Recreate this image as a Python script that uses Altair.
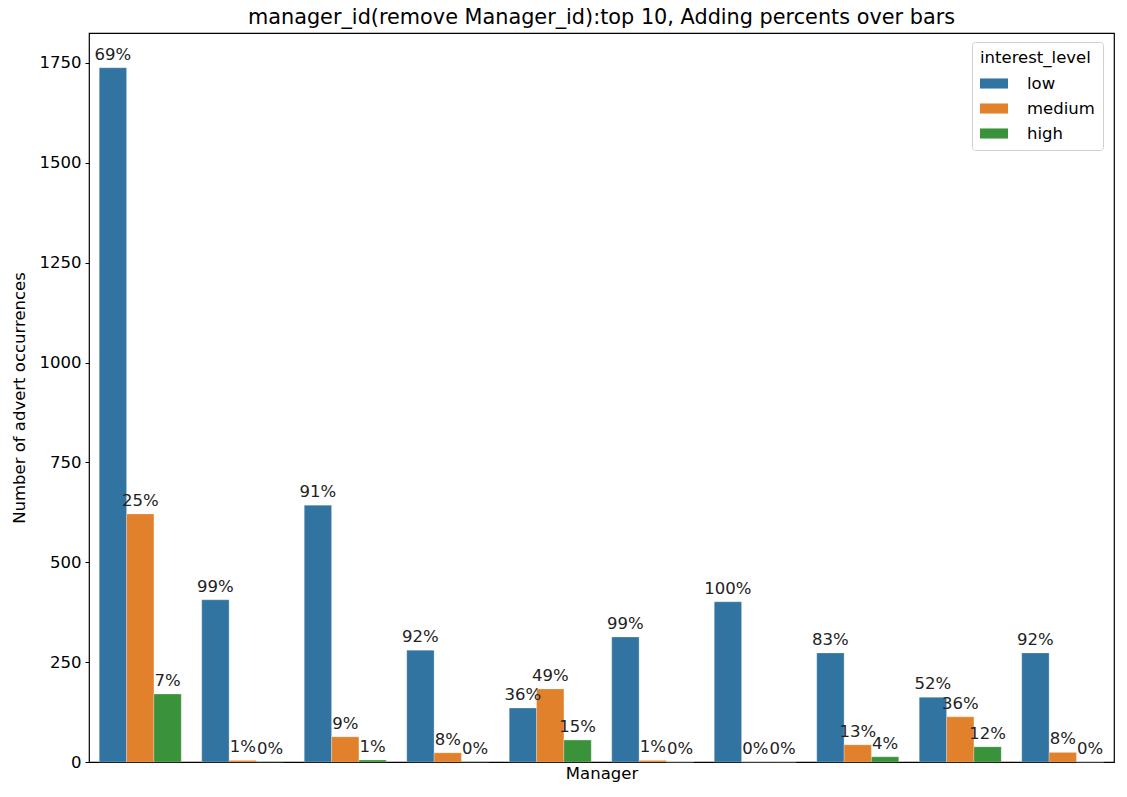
import altair as alt
import pandas as pd

managers = ["m1", "m2", "m3", "m4", "m5", "m6", "m7", "m8", "m9", "m10"]
levels = ["low", "medium", "high"]
low = [1738, 406, 643, 280, 135, 313, 401, 273, 162, 273]
medium = [621, 4, 63, 23, 183, 4, 0, 43, 113, 24]
high = [170, 1, 5, 1, 55, 0, 0, 13, 38, 0]
pct_low = ["69%", "99%", "91%", "92%", "36%", "99%", "100%", "83%", "52%", "92%"]
pct_medium = ["25%", "1%", "9%", "8%", "49%", "1%", "0%", "13%", "36%", "8%"]
pct_high = ["7%", "0%", "1%", "0%", "15%", "0%", "0%", "4%", "12%", "0%"]
colors = ["#3274a1", "#e1812c", "#3a923a"]

rows = []
for i, m in enumerate(managers):
    for lvl, vals, pcts in zip(levels, [low, medium, high], [pct_low, pct_medium, pct_high]):
        rows.append({"manager": m, "interest_level": lvl, "count": vals[i], "pct": pcts[i]})
df = pd.DataFrame(rows)

font = "DejaVu Sans"
fs = 16.5

x = alt.X("manager:N", sort=managers, title="Manager",
          scale=alt.Scale(paddingInner=0.2, paddingOuter=0.1),
          axis=alt.Axis(labels=False, ticks=False, domain=False, titleFontSize=fs,
                        titleFontWeight="normal", titleColor="black", titlePadding=3))
xoff = alt.XOffset("interest_level:N", sort=levels, scale=alt.Scale(paddingInner=0, paddingOuter=0))
y = alt.Y("count:Q", title="Number of advert occurrences",
          scale=alt.Scale(domain=[0, 1825], nice=False),
          axis=alt.Axis(values=[0, 250, 500, 750, 1000, 1250, 1500, 1750], format="d", grid=False,
                        tickSize=4, tickColor="black", domain=False, labelFontSize=fs,
                        labelColor="black", titleFontSize=fs, titleFontWeight="normal",
                        titleColor="black", titlePadding=12, labelPadding=4))
color = alt.Color("interest_level:N", sort=levels,
                  scale=alt.Scale(domain=levels, range=colors),
                  legend=alt.Legend(title="interest_level", orient="none", legendX=883, legendY=9,
                                    fillColor="white", strokeColor="#d0d0d0", cornerRadius=3,
                                    padding=8, titleFontSize=fs, titleFontWeight="normal",
                                    titleColor="black", labelFontSize=fs, labelColor="black",
                                    symbolType="M-1,-0.36L1,-0.36L1,0.36L-1,0.36Z",
                                    symbolSize=784, symbolStrokeWidth=0, rowPadding=2,
                                    labelOffset=19, titlePadding=3))

bars = alt.Chart(df).mark_bar(stroke="white", strokeWidth=0.5, strokeOpacity=0.5).encode(
    x=x, xOffset=xoff, y=y, color=color)
labels = alt.Chart(df).mark_text(baseline="alphabetic", dy=-8, fontSize=fs, color="#222222", font=font).encode(
    x=alt.X("manager:N", sort=managers), xOffset=alt.XOffset("interest_level:N", sort=levels),
    y="count:Q", text="pct:N")

chart = alt.layer(bars, labels).properties(
    width=1025, height=729,
    autosize=alt.AutoSizeParams(type="none"),
    padding={"left": 81, "top": 25, "right": 5, "bottom": 27},
    title=alt.TitleParams("manager_id(remove Manager_id):top 10, Adding percents over bars",
                          fontSize=20.8, fontWeight="normal", font=font, color="black",
                          anchor="middle", offset=4),
).configure(font=font).configure_view(stroke="black", strokeWidth=1.2)

chart.save("out.html", embed_options={"renderer": "svg", "actions": False})
